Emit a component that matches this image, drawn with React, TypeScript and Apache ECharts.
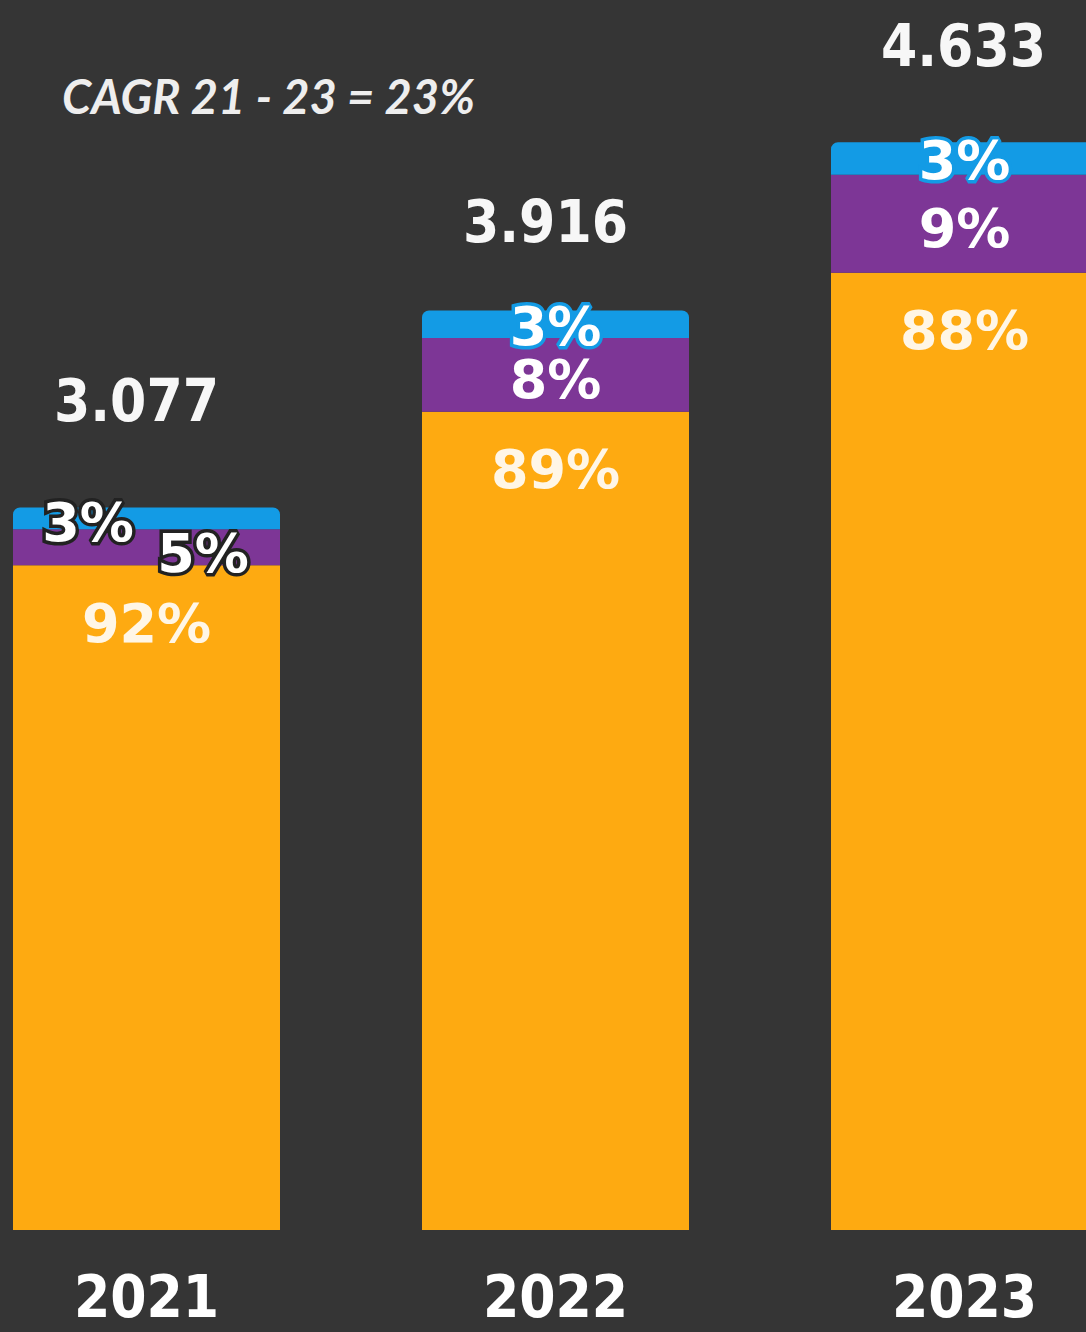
import React, { useEffect, useRef } from "react";
import * as echarts from "echarts";

const categories = ["2021", "2022", "2023"];
const totals = [3.077, 3.916, 4.633];
const totalLabels = ["3.077", "3.916", "4.633"];
const shareOrange = [92, 89, 88];
const sharePurple = [5, 8, 9];
const shareBlue = [3, 3, 3];
const cagrText = "CAGR 21 - 23 = 23%";

const BG = "#353535";
const ORANGE = "#FEAA11";
const PURPLE = "#7D3696";
const BLUE = "#139BE5";
const SHIFT = 58;
const CHART_W = 1227;

const segValue = (i: number, arr: number[]) => {
  const sum = shareOrange[i] + sharePurple[i] + shareBlue[i];
  return (totals[i] * arr[i]) / sum;
};

export default function App() {
  const ref = useRef<HTMLDivElement>(null);
  useEffect(() => {
    if (!ref.current) return;
    const chart = echarts.init(ref.current, null, { renderer: "svg" });
    const pctFont = { fontFamily: "DejaVu Sans", fontWeight: "bold" as const, fontSize: 54 };
    const condFamily = '"DejaVu Sans Condensed", "Liberation Sans Narrow", "DejaVu Sans"';

    const orangeData = categories.map((_, i) => ({
      value: segValue(i, shareOrange),
      label: { formatter: shareOrange[i] + "%" },
    }));
    const purpleData = categories.map((_, i) => {
      const v = segValue(i, sharePurple);
      if (i === 0) {
        return {
          value: v,
          label: {
            formatter: sharePurple[i] + "%",
            position: [190, 24],
            align: "center",
            verticalAlign: "middle",
            textBorderColor: "#222222",
            textBorderWidth: 7,
          },
        };
      }
      return { value: v, label: { formatter: sharePurple[i] + "%", offset: [0, 5] } };
    });
    const blueData = categories.map((_, i) => {
      const v = segValue(i, shareBlue);
      if (i === 0) {
        return {
          value: v,
          label: {
            formatter: shareBlue[i] + "%",
            position: [75, 15],
            align: "center",
            verticalAlign: "middle",
            textBorderColor: "#222222",
            textBorderWidth: 7,
          },
        };
      }
      return {
        value: v,
        label: { formatter: shareBlue[i] + "%", offset: [0, 2], textBorderColor: BLUE, textBorderWidth: 7 },
      };
    });
    const totalOffsets = [
      [-10, -107],
      [-10, -89],
      [-1, -96],
    ];
    const totalData = categories.map((c, i) => ({
      value: [c, totals[i]],
      label: { formatter: totalLabels[i], offset: totalOffsets[i] },
    }));

    chart.setOption({
      animation: false,
      backgroundColor: BG,
      grid: { left: 0, right: 0, top: 56, bottom: 102, containLabel: false },
      xAxis: {
        type: "category",
        data: categories,
        axisLine: { show: false },
        axisTick: { show: false },
        axisLabel: {
          color: "#ffffff",
          fontFamily: condFamily,
          fontWeight: "bold",
          fontSize: 58,
          margin: 38,
        },
      },
      yAxis: { type: "value", min: 0, max: 5, show: false, splitLine: { show: false } },
      graphic: [
        {
          type: "text",
          left: 62 + SHIFT,
          top: 72,
          style: {
            text: cagrText,
            fill: "#eeeeee",
            font: "italic bold 47px Lato",
          },
        },
      ],
      series: [
        {
          type: "bar",
          stack: "s",
          barWidth: 267,
          data: orangeData,
          itemStyle: { color: ORANGE },
          label: {
            show: true,
            position: ["50%", 58],
            align: "center",
            verticalAlign: "middle",
            color: "#FFF6E6",
            ...pctFont,
          },
        },
        {
          type: "bar",
          stack: "s",
          barWidth: 267,
          data: purpleData,
          itemStyle: { color: PURPLE },
          label: {
            show: true,
            position: "inside",
            align: "center",
            verticalAlign: "middle",
            color: "#FFFFFF",
            ...pctFont,
          },
        },
        {
          type: "bar",
          stack: "s",
          barWidth: 267,
          data: blueData,
          itemStyle: { color: BLUE, borderRadius: [7, 7, 0, 0] },
          label: {
            show: true,
            position: "inside",
            align: "center",
            verticalAlign: "middle",
            color: "#FFFFFF",
            ...pctFont,
          },
        },
        {
          type: "scatter",
          symbolSize: 0,
          itemStyle: { opacity: 1 },
          data: totalData,
          label: {
            show: true,
            position: "inside",
            align: "center",
            verticalAlign: "middle",
            color: "#F7F7F7",
            fontFamily: condFamily,
            fontWeight: "bold",
            fontSize: 58,
          },
        },
      ],
    });
    return () => chart.dispose();
  }, []);
  return (
    <div
      style={{
        position: "absolute",
        left: 0,
        top: 0,
        width: 1086,
        height: 1332,
        overflow: "hidden",
        background: BG,
      }}
    >
      <div ref={ref} style={{ position: "absolute", left: -SHIFT, top: 0, width: CHART_W, height: 1332 }} />
    </div>
  );
}
